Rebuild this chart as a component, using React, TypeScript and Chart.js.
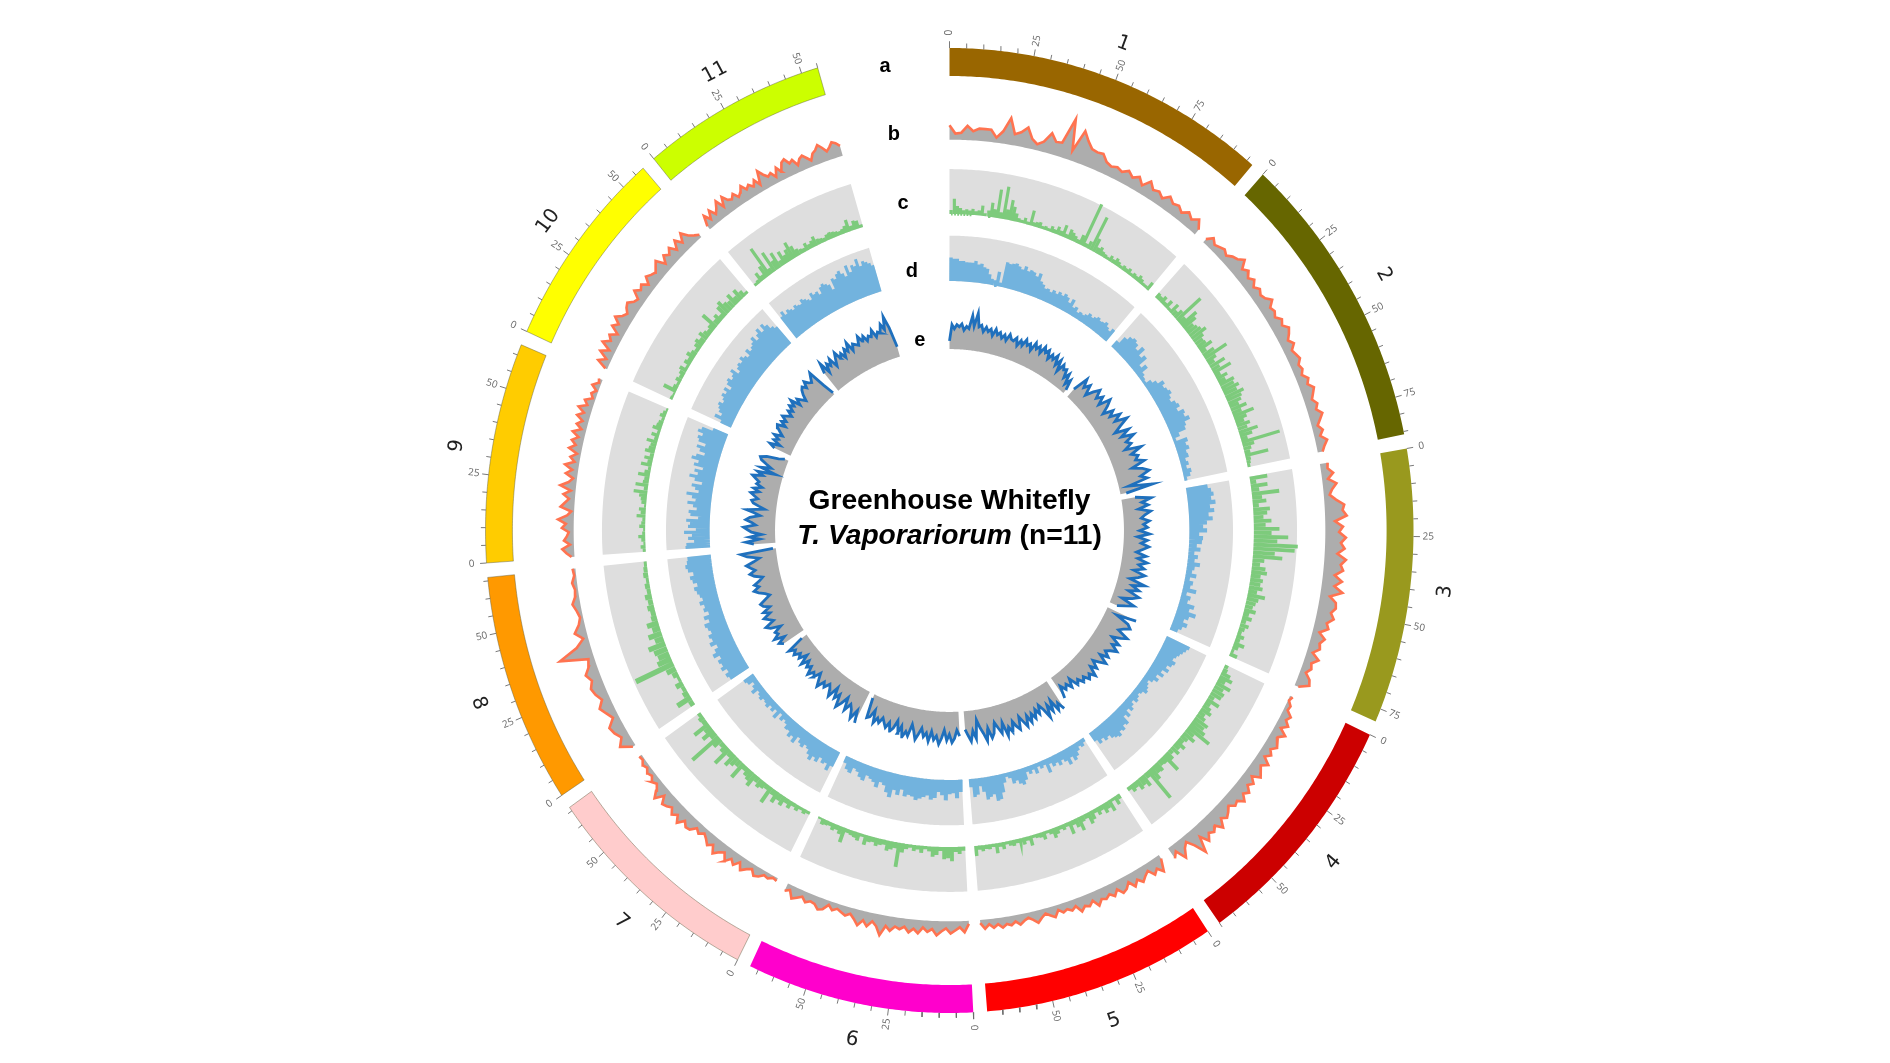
import React, { useEffect, useRef } from "react";
import { Chart, registerables } from "chart.js";

Chart.register(...registerables);

const chromosomes = ["1", "2", "3", "4", "5", "6", "7", "8", "9", "10", "11"];
const chromLengths = [97, 85.8, 78.8, 70, 69.5, 67.6, 66.2, 66, 63.1, 57.9, 55];
const chromColors = ["#996600", "#666600", "#99991e", "#cc0000", "#ff0000", "#ff00cc", "#ffcccc", "#ff9900", "#ffcc00", "#ffff00", "#ccff00"];
const tickLabelValues = [
  [0, 25, 50, 75], [0, 25, 50, 75], [0, 25, 50, 75], [0, 25, 50], [0, 25, 50], [0, 25, 50],
  [0, 25, 50], [0, 25, 50], [0, 25, 50], [0, 25, 50], [0, 25, 50],
];
const trackLetters = ["a", "b", "c", "d", "e"];

const trackB = [
  [14,6,7,14,9,12,12,12,5,12,26,11,14,20,10,6,10,20,13,14,40,10,32,24,18,17,18,12,10,12,10,14,10,14,8,16,10,12,8,14,10,12,8,13,9,14,6],
  [4,10,6,8,10,7,11,13,18,10,14,9,13,8,12,9,11,16,10,12,9,14,11,16,13,9,13,8,10,12,8,10,7,12,9,14,11,8,12,9,14,10,6,10,6,12,8,5],
  [8,7,12,6,14,9,6,12,20,18,22,10,18,14,21,16,20,13,22,17,20,12,20,13,22,10,17,18,14,18,12,15,7,14,10,12,6,14,8,10,6,12,14,4],
  [3,1,5,4,10,7,12,6,14,8,10,13,8,12,7,15,9,12,16,8,14,10,16,12,18,12,14,9,13,16,12,20,13,17,14,20,11,26,14,6,10,18,7,12],
  [4,16,10,14,7,10,14,9,14,7,12,14,8,13,9,12,10,15,8,12,10,14,7,10,7,9,5,11,8,5,8,12,8,5,7,10,6,9,7,10,6,9,5,9,3],
  [3,11,6,9,12,7,10,14,8,11,7,13,9,13,8,11,9,14,10,20,12,8,14,9,15,10,6,9,7,5,8,4,10,12,8,7,10,6,9,12,5,8],
  [3,2,5,4,8,10,5,8,12,6,12,8,14,7,10,15,8,12,8,5,9,6,12,13,9,16,10,14,9,12,14,7,16,10,5,8,4,6,3,5,2,3],
  [3,14,8,12,14,6,10,14,8,12,14,10,14,8,6,34,14,5,12,6,3,5,8,4,3,5,2,3],
  [3,8,12,4,10,7,5,12,8,16,7,3,14,10,6,12,5,16,8,4,12,6,14,5,10,4,13,7,12,6,13,5,11,6,13,7,14,6,10,3,6,2,8,3,4],
  [2,12,5,14,6,16,9,13,6,15,10,17,11,8,12,14,9,7,15,10,13,7,14,11,9,13,16,7,14,10,15,8,16,9,17,10,6,3],
  [4,14,7,15,8,12,18,9,18,12,10,14,8,11,16,10,13,9,14,7,20,14,10,12,6,14,8,16,18,12,14,7,12,14,10,6,12,14,18,14,9,12,16,14,10],
];
const trackC = [
  [4,15,8,6,4,5,4,6,4,5,10,3,6,14,8,28,6,32,10,20,14,8,4,3,6,3,15,4,5,6,3,4,3,6,4,8,5,12,4,10,8,6,4,10,45,4,8,36,14,6,8,5,4,3,6,4,7,5,3,5,4,6,3,5,4,7,5,3,3,9],
  [6,5,8,4,9,3,11,6,10,32,8,20,16,10,12,14,18,12,9,10,15,6,13,26,11,7,17,9,20,6,12,8,16,14,18,14,20,16,14,10,17,10,22,13,9,14,10,20,13,7,40,12,8,6,24,5,4,3],
  [18,6,17,8,28,10,14,6,17,14,10,18,12,26,18,35,24,45,42,22,30,12,8,14,16,10,13,11,14,9,18,12,10,8,12,6,10,5,9,6,4,8,5,11,6,3,8],
  [4,5,10,14,8,16,10,13,12,6,14,6,9,12,7,10,16,14,18,27,10,14,8,6,11,7,10,5,9,20,7,6,10,9,14,35,6,13,9,11,6,8,4],
  [5,9,3,12,7,10,5,8,4,9,12,5,6,14,9,5,13,4,6,4,7,10,5,3,8,5,4,3,10,4,7,3,4,6,5,3,7,4,10,3,5,4,6,4,10],
  [4,7,5,14,11,12,4,8,10,5,3,7,4,6,3,5,9,24,6,8,10,5,6,8,5,6,10,3,8,6,5,4,15,8,5,7,4,5,6,2],
  [3,5,3,6,4,8,5,10,7,12,6,18,5,7,9,6,14,10,8,5,18,7,10,14,6,20,8,5,10,35,7,14,8,18,5,6,4],
  [5,16,6,4,8,3,6,10,42,15,12,14,18,9,14,8,12,6,5,7,5,7,4,5,3,5,4,3],
  [3,5,2,4,7,3,2,6,4,3,9,5,7,2,5,6,8,14,4,13,6,5,12,6,3,11,5,9,4,10,7,6,11,4,8,3,9,6,5,3,6,4,2],
  [3,2,14,5,3,6,4,6,8,3,7,5,9,6,4,7,9,6,10,7,5,7,18,6,9,5,12,15,10,8,13,7,12,7,3],
  [3,4,10,5,13,32,6,22,10,17,6,14,8,12,18,12,7,5,4,8,5,7,10,6,5,4,6,7,6,5,4,5,7,12,5,9,8,3],
];
const trackD = [
  [23,22,22,20,20,19,19,19,21,18,19,16,15,10,6,5,14,4,25,24,25,26,24,22,26,22,24,23,20,24,17,15,12,13,11,14,12,15,13,16,14,10,15,8,10,6,8,7,9,12,10,12,14,12,13,15,12,10,14],
  [8,16,20,22,20,16,22,14,18,8,13,6,4,3,8,12,18,15,17,19,16,14,18,20,16,22,20,24,18,16,8,3,14,11,13,9,10,6,8,5,9,7,3],
  [22,25,27,24,28,22,26,20,24,18,14,18,10,14,13,8,12,6,10,7,13,8,6,11,5,9,7,14,5,10,8,16,12,20,14,10,15,11,8],
  [26,24,22,20,18,16,20,18,14,18,12,16,10,14,10,6,8,10,12,8,6,8,10,6,9,12,8,14,10,18,16,20,18,22,20,18,14,16,12,15,10],
  [4,7,5,8,12,15,10,16,11,8,12,8,10,6,14,5,7,4,10,5,8,5,12,16,14,10,12,6,4,9,18,24,25,18,20,22,14,8,16,18,8],
  [12,18,13,14,20,15,12,18,20,16,18,20,22,19,18,20,14,20,16,24,20,14,12,18,14,12,10,16,14,10,8,14,12,7],
  [16,22,16,18,14,20,17,22,18,14,12,16,14,10,18,13,16,11,12,8,6,9,4,12,5,9,6,10,8,7,10,8,6,12,8,5,10,12],
  [22,24,20,25,22,24,20,26,22,18,24,20,22,18,20,22,16,20,14,18,16,20,16,18,20,22,18,22,24,20,25,27,25,24],
  [25,24,16,22,18,26,14,22,20,24,12,20,22,14,18,24,16,20,26,14,18,22,12,20,26,18,22,14,24,20,28,24,16,22,26,18,26,28,24,30,27,16],
  [12,20,14,18,20,22,18,20,23,20,24,18,24,26,22,24,28,20,24,26,24,28,25,22,28,24,26,28,32,26,30,34,28,34,30,25,22],
  [26,30,25,28,26,24,27,25,24,28,26,24,22,28,25,26,22,28,30,28,26,20,30,28,32,34,30,26,36,28,34,32,38,30,34,32,30,27],
];
const trackE = [
  [8,24,20,24,22,25,19,23,21,34,24,37,24,26,20,25,21,24,18,25,20,23,18,22,17,24,20,19,23,16,22,18,25,20,23,17,26,21,25,19,27,22,26,18,24,20,26,17,24,13,22,18,20,12,18,8,14,4],
  [10,26,18,24,14,22,28,20,26,18,30,24,16,26,20,30,22,34,24,16,30,20,32,22,26,18,34,22,28,24,32,18,28,34,24,30,10,34,6],
  [14,30,20,26,16,28,22,18,26,20,24,16,26,14,24,18,26,20,14,24,16,26,18,24,14,26,20,12,28,16,24,14,26,20,10,24,16,8],
  [32,12,26,30,24,20,32,26,18,28,22,30,24,20,26,18,28,22,16,24,18,28,22,26,20,24,18,22,12,20,14,18,12,24],
  [32,24,30,18,28,20,32,22,16,24,18,26,20,28,20,30,24,18,30,26,20,30,24,32,18,28,22,16,26,30,20,32,24,18,10,28,20,30,24,18],
  [24,18,26,30,22,28,18,26,32,24,28,20,30,22,26,18,24,30,22,16,28,24,30,20,28,16,24,28,20,26,22,18,24,20,26,14,22,24,4],
  [34,22,32,24,20,28,16,24,30,18,24,14,26,20,16,22,18,26,20,14,22,18,24,16,20,14,22,12,20,16,22,18,24,6],
  [24,28,20,30,24,26,18,28,32,22,26,30,22,28,20,26,28,22,16,20,26,30,24,28,22,18,26,30,24,28,32,24,18,30,36,3],
  [22,30,16,26,14,24,28,32,20,24,30,26,16,22,30,12,18,24,26,20,24,28,20,26,18,24,22,26,30,20,26,8,24,14,20,26,28,22,10,4],
  [18,24,14,22,18,24,16,20,24,26,18,24,20,26,22,18,24,20,26,22,28,18,24,20,16,22,26,28,24,30,26,24,28,32,14,2],
  [22,32,20,28,24,30,20,26,32,24,28,22,30,26,34,24,30,28,26,34,28,32,26,30,28,34,26,30,28,36,30,42,30,10],
];

const DEG_PER_UNIT = 0.42;
const GAP = 1.72;
const R_UNIT = 472;
const polar = (deg: number, r: number) => {
  const t = (deg * Math.PI) / 180;
  return { x: r * Math.sin(t), y: r * Math.cos(t) };
};

function spans() {
  const out: { start: number; end: number }[] = [];
  let a = 0;
  chromLengths.forEach((len) => {
    const end = a + len * DEG_PER_UNIT;
    out.push({ start: a, end });
    a = end + GAP;
  });
  return out;
}

function arc(start: number, end: number, r: number) {
  const pts = [];
  const n = Math.max(2, Math.ceil((end - start) / 0.4));
  for (let i = 0; i <= n; i++) pts.push(polar(start + ((end - start) * i) / n, r));
  return pts;
}

const sector = (s: any, r0: number, r1: number, color: string, border?: string) => ({
  data: [...arc(s.start, s.end, r1), ...arc(s.start, s.end, r0).reverse()],
  polygon: true,
  backgroundColor: color,
  borderColor: border || color,
  showLine: false,
  pointRadius: 0,
});

function profile(values: number[], s: any, r0: number) {
  return values.map((v, i) => polar(s.start + ((s.end - s.start) * i) / (values.length - 1), r0 + v / R_UNIT));
}

function lineTrack(vals: number[][], r0: number, lineColor: string, width: number) {
  const out: any[] = [];
  spans().forEach((s, i) => {
    const p = profile(vals[i], s, r0);
    out.push({
      data: [...p, ...arc(s.start, s.end, r0).reverse()],
      polygon: true,
      backgroundColor: "#adadad",
      borderColor: "#adadad",
      showLine: false,
      pointRadius: 0,
    });
    out.push({ data: p, showLine: true, borderColor: lineColor, borderWidth: width, pointRadius: 0, tension: 0, borderJoinStyle: "miter" });
  });
  return out;
}

function barTrack(vals: number[][], r0: number, r1: number, color: string, widthFactor: number) {
  const out: any[] = [];
  spans().forEach((s, i) => {
    out.push(sector(s, r0, r1, "#dedede"));
    const v = vals[i];
    const step = (s.end - s.start) / v.length;
    const data: any[] = [];
    v.forEach((h, j) => {
      const a = s.start + step * (j + 0.5);
      data.push(polar(a, r0), polar(a, r0 + h / R_UNIT), { x: NaN, y: NaN });
    });
    out.push({
      data,
      showLine: true,
      spanGaps: false,
      borderColor: color,
      borderWidth: ((step * Math.PI) / 180) * r0 * R_UNIT * widthFactor,
      borderCapStyle: "butt",
      pointRadius: 0,
      tension: 0,
    });
  });
  return out;
}

function ideogram() {
  const out: any[] = [];
  spans().forEach((s, i) => {
    out.push(sector(s, 0.942, 1, chromColors[i], i >= 6 ? "rgba(90,90,60,0.55)" : chromColors[i]));
    const ticks: any[] = [];
    for (let u = 0; u <= chromLengths[i]; u += 5) {
      const a = s.start + u * DEG_PER_UNIT;
      ticks.push(polar(a, 1), polar(a, u % 25 === 0 ? 1.014 : 1.01), { x: NaN, y: NaN });
    }
    out.push({ data: ticks, showLine: true, spanGaps: false, borderColor: "#6a6a6a", borderWidth: 0.9, pointRadius: 0, tension: 0 });
  });
  return out;
}

const polygonPlugin = {
  id: "polygonFill",
  beforeDatasetDraw(chart: any, args: any) {
    const ds = chart.data.datasets[args.index];
    if (!ds.polygon) return;
    const ctx = chart.ctx;
    ctx.save();
    ctx.beginPath();
    args.meta.data.forEach((p: any, i: number) => (i ? ctx.lineTo(p.x, p.y) : ctx.moveTo(p.x, p.y)));
    ctx.closePath();
    ctx.fillStyle = ds.backgroundColor;
    ctx.fill();
    if (ds.borderColor !== ds.backgroundColor) {
      ctx.strokeStyle = ds.borderColor;
      ctx.lineWidth = 0.8;
      ctx.stroke();
    }
    ctx.restore();
  },
};

const annotationPlugin = {
  id: "annotations",
  afterDraw(chart: any) {
    const { ctx, scales } = chart;
    const px = (p: any) => ({ x: scales.x.getPixelForValue(p.x), y: scales.y.getPixelForValue(p.y) });
    const rotated = (text: string, p: any, deg: number, font: string, color: string) => {
      const q = px(p);
      ctx.save();
      ctx.translate(q.x, q.y);
      ctx.rotate((deg * Math.PI) / 180);
      ctx.font = font;
      ctx.fillStyle = color;
      ctx.textAlign = "center";
      ctx.textBaseline = "middle";
      ctx.fillText(text, 0, 0);
      ctx.restore();
    };
    spans().forEach((s, i) => {
      tickLabelValues[i].forEach((u) => {
        const a = s.start + u * DEG_PER_UNIT;
        const rot = a < 180 ? a - 90 : a - 270;
        rotated(String(u), polar(a, 1.032), rot, "10px 'Open Sans'", "#666");
      });
      const mid = (s.start + s.end) / 2;
      const rot = mid > 90 && mid < 270 ? mid - 180 : mid;
      rotated(chromosomes[i], polar(mid, 1.076), rot, "20px 'DejaVu Sans'", "#222");
    });
    const us = [-0.139, -0.12, -0.1, -0.081, -0.064];
    const vs = [0.961, 0.82, 0.677, 0.536, 0.393];
    trackLetters.forEach((t, i) => rotated(t, { x: us[i], y: vs[i] }, 0, "bold 20px 'Liberation Sans'", "#000"));
    const bold = "bold 28.2px 'Liberation Sans'";
    const ital = "italic bold 28.2px 'Liberation Sans'";
    rotated("Greenhouse Whitefly", { x: 0, y: 0.061 }, 0, bold, "#000");
    const c = px({ x: 0, y: -0.011 });
    ctx.save();
    ctx.textBaseline = "middle";
    ctx.textAlign = "left";
    ctx.fillStyle = "#000";
    const first = "T. Vaporariorum";
    const second = " (n=11)";
    ctx.font = ital;
    const w1 = ctx.measureText(first).width;
    ctx.font = bold;
    const w2 = ctx.measureText(second).width;
    const x0 = c.x - (w1 + w2) / 2;
    ctx.font = ital;
    ctx.fillText(first, x0, c.y);
    ctx.font = bold;
    ctx.fillText(second, x0 + w1, c.y);
    ctx.restore();
  },
};

export default function App() {
  const ref = useRef<HTMLCanvasElement>(null);
  useEffect(() => {
    const datasets = [
      ...ideogram(),
      ...lineTrack(trackB, 0.81, "#ff7350", 2.6),
      ...barTrack(trackC, 0.656, 0.749, "#7dcb7c", 1.0),
      ...barTrack(trackD, 0.517, 0.611, "#72b3de", 1.15),
      ...lineTrack(trackE, 0.376, "#1f70bd", 2.8),
    ].reverse();
    const chart = new Chart(ref.current as HTMLCanvasElement, {
      type: "scatter",
      data: { datasets },
      options: {
        animation: false,
        responsive: false,
        devicePixelRatio: 1,
        layout: { padding: 0 },
        plugins: { legend: { display: false }, tooltip: { enabled: false } },
        elements: { point: { radius: 0 } },
        scales: {
          x: { type: "linear", min: -949.5 / 464, max: (1890 - 949.5) / 464, display: false },
          y: { type: "linear", min: (530.5 - 1063) / 482.5, max: 530.5 / 482.5, display: false },
        },
      },
      plugins: [polygonPlugin, annotationPlugin],
    } as any);
    return () => chart.destroy();
  }, []);
  return (
    <div style={{ position: "fixed", left: 0, top: 0, width: 1890, height: 1063, background: "#fff" }}>
      <canvas ref={ref} width={1890} height={1063} style={{ display: "block", filter: "blur(0.55px)" }} />
    </div>
  );
}
